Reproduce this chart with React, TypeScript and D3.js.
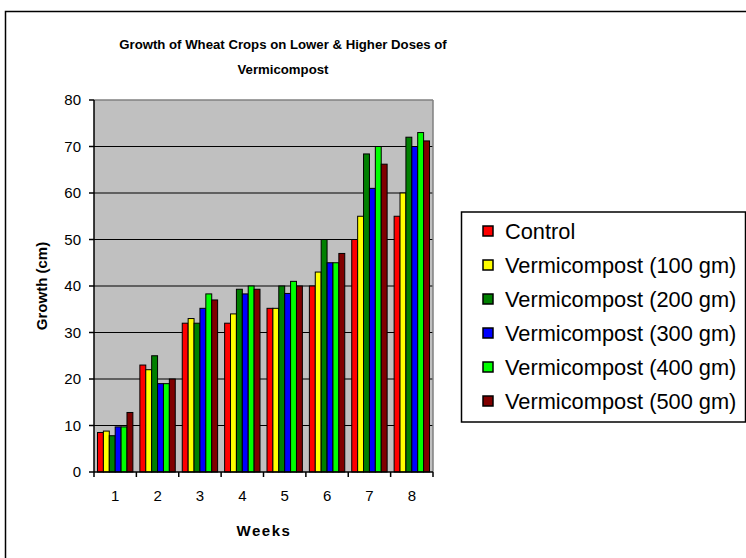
import React from "react";
import * as d3 from "d3";

const weeks = ["1", "2", "3", "4", "5", "6", "7", "8"];
const seriesNames = [
  "Control",
  "Vermicompost (100 gm)",
  "Vermicompost (200 gm)",
  "Vermicompost (300 gm)",
  "Vermicompost (400 gm)",
  "Vermicompost (500 gm)",
];
const control = [8.5, 23, 32, 32, 35.2, 40, 50, 55];
const v100 = [8.8, 22, 33, 34, 35.2, 43, 55, 60];
const v200 = [7.8, 25, 32, 39.3, 40, 50, 68.4, 72];
const v300 = [9.7, 19, 35.2, 38.3, 38.4, 45, 61, 70];
const v400 = [9.7, 19, 38.3, 40, 41, 45, 70, 73];
const v500 = [12.8, 20, 37, 39.3, 40, 47, 66.2, 71.2];
const seriesValues = [control, v100, v200, v300, v400, v500];
const colors = ["#FF0000", "#FFFF00", "#008000", "#0000FF", "#00FF00", "#800000"];
const yTicks = [0, 10, 20, 30, 40, 50, 60, 70, 80];

export default function App() {
  const W = 746;
  const H = 558;
  const left = 94;
  const right = 433;
  const top = 100;
  const bottom = 472;

  const x0 = d3.scaleBand<string>().domain(weeks).range([left, right]).padding(0);
  const bw = x0.bandwidth();
  const inset = 3.5;
  const x1 = d3
    .scaleBand<string>()
    .domain(seriesNames)
    .range([inset, bw - inset])
    .padding(0);
  const y = d3.scaleLinear().domain([0, 80]).range([bottom, top]);

  const font = "Arial, 'Liberation Sans', sans-serif";

  return (
    <svg
      width={W}
      height={H}
      style={{ position: "absolute", left: 0, top: 0, background: "#fff" }}
      fontFamily={font}
    >
      <rect x={5.5} y={11.5} width={800} height={600} fill="#fff" stroke="#000" strokeWidth={1.5} />

      <text x={283} y={49} textAnchor="middle" fontWeight="bold" fontSize={13.2}>
        Growth of Wheat Crops on Lower &amp; Higher Doses of
      </text>
      <text x={283} y={74} textAnchor="middle" fontWeight="bold" fontSize={13.2}>
        Vermicompost
      </text>

      <rect x={left} y={top} width={right - left} height={bottom - top} fill="#C0C0C0" />
      {yTicks
        .filter((t) => t > 0 && t < 80)
        .map((t) => (
          <line key={"g" + t} x1={left} x2={right} y1={y(t)} y2={y(t)} stroke="#000" strokeWidth={1} />
        ))}
      <line x1={left} x2={right} y1={top} y2={top} stroke="#808080" strokeWidth={1.5} />
      <line x1={right} x2={right} y1={top} y2={bottom} stroke="#808080" strokeWidth={1.5} />

      {weeks.map((w, i) => (
        <g key={"grp" + w} transform={`translate(${x0(w)},0)`}>
          {seriesNames.map((s, j) => {
            const v = seriesValues[j][i];
            return (
              <rect
                key={s}
                x={x1(s)}
                y={y(v)}
                width={x1.bandwidth()}
                height={y(0) - y(v)}
                fill={colors[j]}
                stroke="#000"
                strokeWidth={1}
              />
            );
          })}
        </g>
      ))}

      <line x1={left} x2={left} y1={top} y2={bottom} stroke="#000" strokeWidth={1.5} />
      <line x1={left} x2={right} y1={bottom} y2={bottom} stroke="#000" strokeWidth={1.5} />
      {yTicks.map((t) => (
        <g key={"yt" + t}>
          <line x1={left - 5} x2={left} y1={y(t)} y2={y(t)} stroke="#000" strokeWidth={1.5} />
          <text x={left - 13} y={y(t)} dy="0.35em" textAnchor="end" fontSize={15}>
            {t}
          </text>
        </g>
      ))}
      {weeks.map((w) => (
        <line
          key={"xt" + w}
          x1={x0(w)}
          x2={x0(w)}
          y1={bottom}
          y2={bottom + 5}
          stroke="#000"
          strokeWidth={1.5}
        />
      ))}
      <line x1={right} x2={right} y1={bottom} y2={bottom + 5} stroke="#000" strokeWidth={1.5} />
      {weeks.map((w) => (
        <text key={"xl" + w} x={(x0(w) as number) + bw / 2} y={496} dy="0.35em" textAnchor="middle" fontSize={15}>
          {w}
        </text>
      ))}
      <text x={264} y={531} dy="0.35em" textAnchor="middle" fontWeight="bold" fontSize={15} letterSpacing={1.5}>
        Weeks
      </text>
      <text
        transform={`translate(42,286) rotate(-90)`}
        textAnchor="middle"
        dy="0.35em"
        fontWeight="bold"
        fontSize={15}
      >
        Growth (cm)
      </text>

      <rect x={461.5} y={212} width={284} height={210} fill="#fff" stroke="#000" strokeWidth={1.5} />
      {seriesNames.map((s, j) => (
        <g key={"lg" + s} transform={`translate(0,${231 + j * 34})`}>
          <rect x={483} y={-5} width={10} height={10} fill={colors[j]} stroke="#000" strokeWidth={1.5} />
          <text x={505} y={0} dy="0.35em" fontSize={21.8}>
            {s}
          </text>
        </g>
      ))}
    </svg>
  );
}
